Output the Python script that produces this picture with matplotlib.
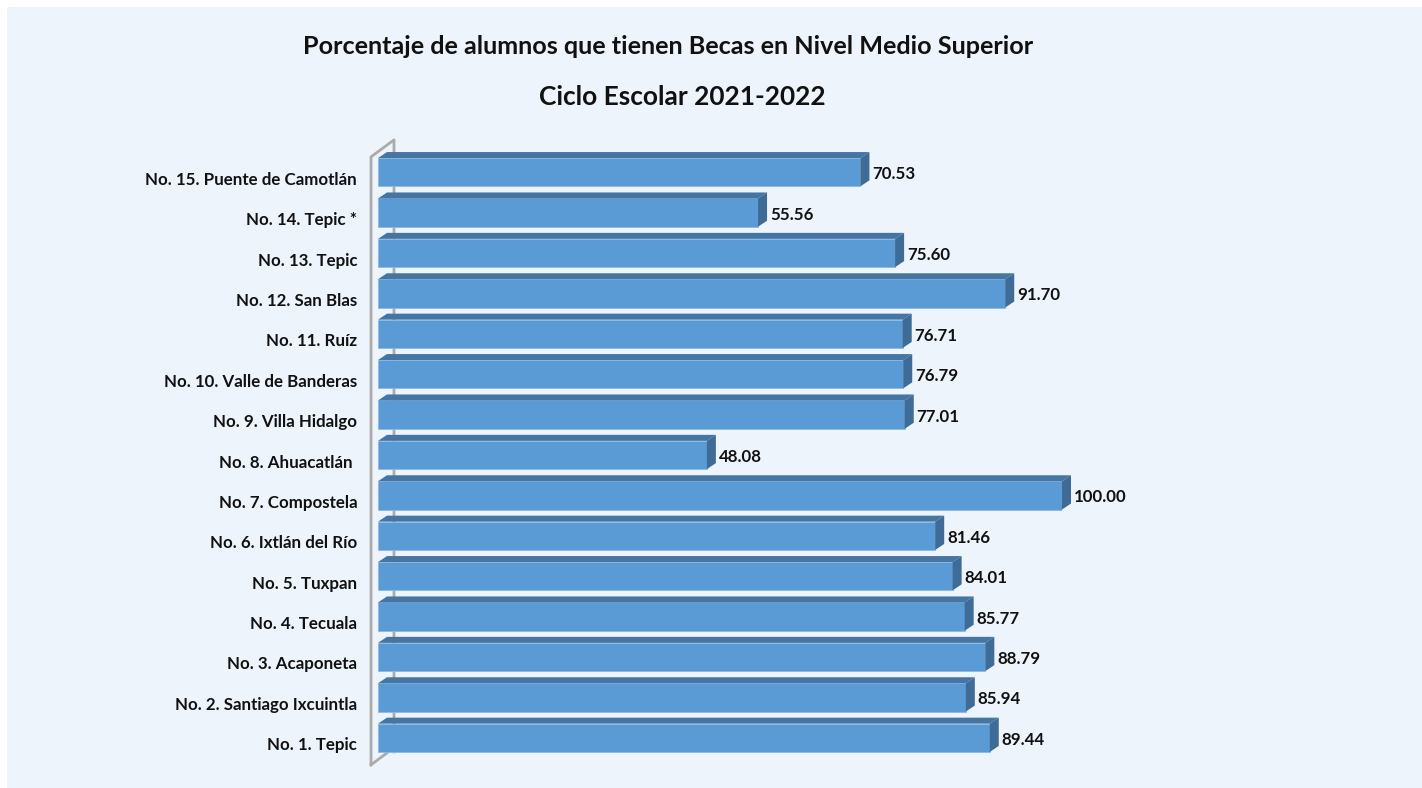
import matplotlib
matplotlib.use('Agg')
import matplotlib.pyplot as plt
from matplotlib.patches import Polygon, Rectangle
from matplotlib.transforms import ScaledTranslation

plt.rcParams['font.family'] = ['Lato', 'DejaVu Sans']

# Data
planteles = ['No. 1. Tepic', 'No. 2. Santiago Ixcuintla', 'No. 3. Acaponeta', 'No. 4. Tecuala',
             'No. 5. Tuxpan', 'No. 6. Ixtlán del Río', 'No. 7. Compostela', 'No. 8. Ahuacatlán ',
             'No. 9. Villa Hidalgo', 'No. 10. Valle de Banderas', 'No. 11. Ruíz', 'No. 12. San Blas',
             'No. 13. Tepic', 'No. 14. Tepic *', 'No. 15. Puente de Camotlán']
porcentajes = [89.44, 85.94, 88.79, 85.77, 84.01, 81.46, 100.00, 48.08,
               77.01, 76.79, 76.71, 91.70, 75.60, 55.56, 70.53]
etiquetas = ['89.44', '85.94', '88.79', '85.77', '84.01', '81.46', '100.00', '48.08',
             '77.01', '76.79', '76.71', '91.70', '75.60', '55.56', '70.53']

W, H = 1422, 788
fig = plt.figure(figsize=(W / 100, H / 100), dpi=100, facecolor='white')

# Pale blue panel behind everything
fig.add_artist(Rectangle((7 / W, 0), 1 - 7 / W, 1 - 7 / H, transform=fig.transFigure,
                         facecolor='#EDF4FB', edgecolor='none', zorder=-1))

# Axes: 0-100 spans the front face of the longest bar
ax = fig.add_axes([378 / W, 1 - 758 / H, 684 / W, 606 / H])
ax.set_xlim(0, 100)
ax.set_ylim(-0.5, 14.5)
ax.patch.set_alpha(0)
for s in ax.spines.values():
    s.set_visible(False)
ax.set_xticks([])
ax.set_yticks(range(len(planteles)))
ax.set_yticklabels(planteles, fontsize=12.2, fontweight='bold', color='#111111')
ax.tick_params(axis='y', length=0, pad=15)

# Category labels sit a little below the middle of their bar
bajar = ScaledTranslation(0, -6 / 100, fig.dpi_scale_trans)
for lab in ax.get_yticklabels():
    lab.set_transform(lab.get_transform() + bajar)

# Depth of the 3D effect, in data units
dx = 9 / 6.84
dy = 6 / 40.4
alto = 0.70

# Gray wall at the back
pared = [(-1.02, -0.67), (-1.02, 14.38), (2.34, 14.8), (2.34, -0.35)]
ax.plot([p[0] for p in pared], [p[1] for p in pared], color='#ABABAB', lw=2.0,
        clip_on=False, zorder=1)
ax.plot([-1.02, 1.5], [-0.67, -0.35], color='#ABABAB', lw=2.0, clip_on=False, zorder=1)

# Bars: front face + top and side faces
for i, v in enumerate(porcentajes):
    y0 = i - alto / 2
    y1 = i + alto / 2
    ax.barh(i, v, height=alto, color='#5B9BD5', edgecolor='#8DB8E0', linewidth=0.6, zorder=3)
    ax.add_patch(Polygon([(0, y1), (dx, y1 + dy), (v + dx, y1 + dy), (v, y1)],
                         facecolor='#4475A3', edgecolor='none', clip_on=False, zorder=3))
    ax.add_patch(Polygon([(v, y0), (v + dx, y0 + dy), (v + dx, y1 + dy), (v, y1)],
                         facecolor='#3F6C97', edgecolor='none', clip_on=False, zorder=3))
    ax.annotate(etiquetas[i], (v + dx, i), xytext=(3, -2), textcoords='offset pixels',
                va='center', ha='left', fontsize=12.2, fontweight='bold', color='#111111',
                annotation_clip=False)

# Titles
fig.text(668 / W, 1 - 47 / H, 'Porcentaje de alumnos que tienen Becas en Nivel Medio Superior',
         ha='center', va='center', fontsize=18.1, fontweight='bold', color='#111111')
fig.text(682 / W, 1 - 97 / H, 'Ciclo Escolar 2021-2022',
         ha='center', va='center', fontsize=18.9, fontweight='bold', color='#111111')

fig.savefig('out.png', dpi=100)
